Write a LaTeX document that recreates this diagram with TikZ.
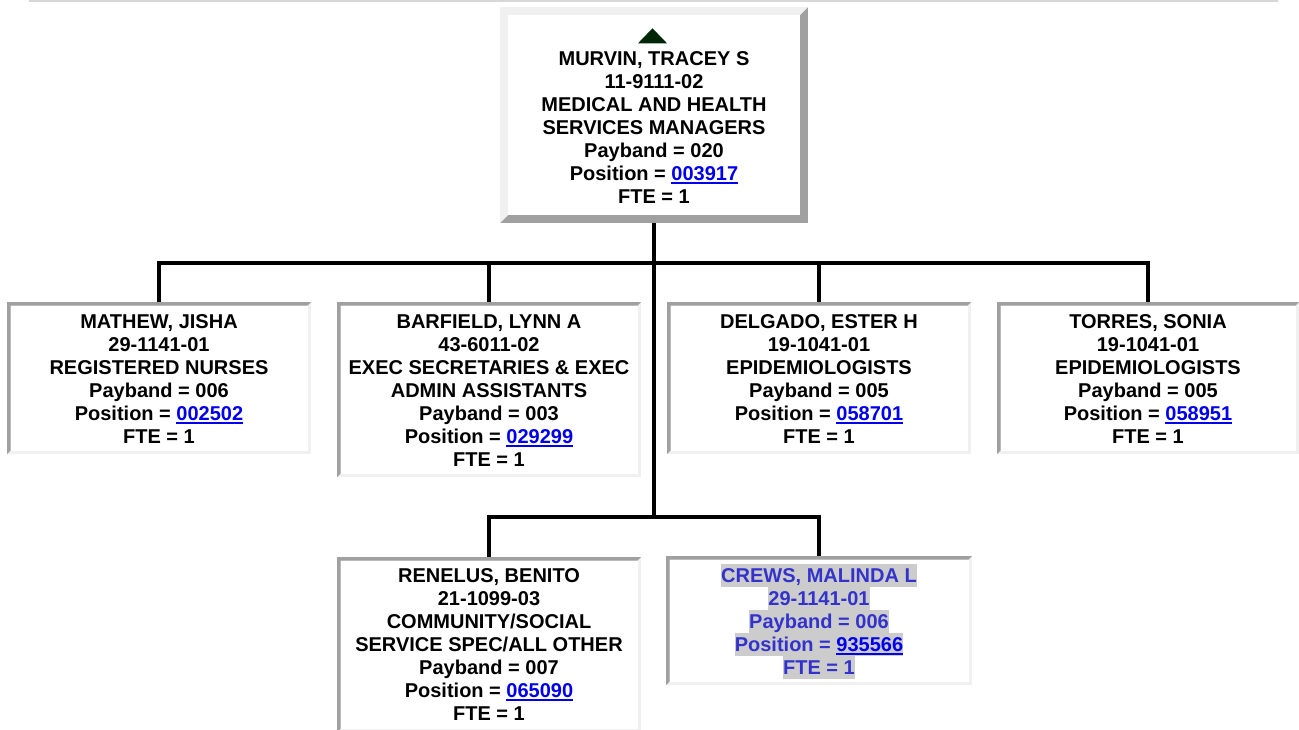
\documentclass[tikz,border=0pt]{standalone}
\usepackage{fontspec}
\setmainfont{Liberation Sans}
\definecolor{lightb}{RGB}{240,240,240}
\definecolor{darkb}{RGB}{160,160,160}
\definecolor{linkblue}{RGB}{0,0,238}
\definecolor{crewblue}{RGB}{51,51,204}
\definecolor{hlgray}{RGB}{204,204,204}
\definecolor{triGreen}{RGB}{0,38,8}
\definecolor{hrgray}{RGB}{215,215,215}
\newsavebox\lkbox
\newcommand\lk[1]{{\color{linkblue}\sbox\lkbox{#1}\rlap{\rule[-3.5pt]{\wd\lkbox}{2pt}}\usebox\lkbox}}
\newcommand\hlline[1]{{\setlength\fboxsep{0pt}\colorbox{hlgray}{\rule[-4.5pt]{0pt}{23pt}#1}}}
\newcommand\bevel[4]{%
  \fill[#4] (#1.south west) rectangle (#1.north east);
  \fill[#3] (#1.south west) -- (#1.north west) -- (#1.north east)
    -- ([xshift=-#2,yshift=-#2]#1.north east) -- ([xshift=#2,yshift=-#2]#1.north west)
    -- ([xshift=#2,yshift=#2]#1.south west) -- cycle;
  \fill[white] ([xshift=#2,yshift=-#2]#1.north west) rectangle ([xshift=-#2,yshift=#2]#1.south east);
}
\tikzset{
  conn/.style={line width=4pt, draw=black},
  boxnode/.style={draw=none, inner sep=0pt, outer sep=0pt, anchor=north west},
  txt/.style={inner sep=0pt, outer sep=0pt, anchor=north, align=center,
    font=\fontsize{20}{23}\selectfont\bfseries}
}
\begin{document}
\begin{tikzpicture}[x=1pt,y=-1pt]
\useasboundingbox (0,0) rectangle (1299,729);
\fill[white] (0,0) rectangle (1299,729);
% top rule
\draw[hrgray, line width=1.5pt] (29,0.75) -- (1278,0.75);
% box nodes
\node[boxnode, minimum width=308pt, minimum height=216pt] (murvin) at (500,7) {};
\node[boxnode, minimum width=304pt, minimum height=152pt] (mathew) at (7,302) {};
\node[boxnode, minimum width=304pt, minimum height=175pt] (barfield) at (337,302) {};
\node[boxnode, minimum width=304pt, minimum height=152pt] (delgado) at (667,302) {};
\node[boxnode, minimum width=302pt, minimum height=152pt] (torres) at (997,302) {};
\node[boxnode, minimum width=304pt, minimum height=175pt] (renelus) at (337,557) {};
\node[boxnode, minimum width=306pt, minimum height=129pt] (crews) at (666,556) {};
% connectors
\coordinate (bus1) at (654,263);
\coordinate (bus2) at (654,517);
\draw[conn] (murvin.south) -- (bus2);
\draw[conn] (mathew.north) -- (mathew.north |- bus1) -- (torres.north |- bus1) -- (torres.north);
\draw[conn] (barfield.north) -- (barfield.north |- bus1);
\draw[conn] (delgado.north) -- (delgado.north |- bus1);
\draw[conn] (renelus.north) -- (renelus.north |- bus2) -- (crews.north |- bus2) -- (crews.north);
% bevels
\bevel{murvin}{8pt}{lightb}{darkb}
\bevel{mathew}{3.5pt}{darkb}{lightb}
\bevel{barfield}{3.5pt}{darkb}{lightb}
\bevel{delgado}{3.5pt}{darkb}{lightb}
\bevel{torres}{3.5pt}{darkb}{lightb}
\bevel{renelus}{3.5pt}{darkb}{lightb}
\bevel{crews}{3.5pt}{darkb}{lightb}
% triangle
\fill[triGreen] (638,43.3) -- (652.5,28.3) -- (667,43.3) -- cycle;
% texts
\node[txt] (murvinT) at (654,47) {\rule{0pt}{18pt}MURVIN, TRACEY S\\11-9111-02\\MEDICAL AND HEALTH\\SERVICES MANAGERS\\Payband = 020\\Position = \lk{003917}\\FTE = 1};
\node[txt] (mathewT) at (159,310) {\rule{0pt}{18pt}MATHEW, JISHA\\29-1141-01\\REGISTERED NURSES\\Payband = 006\\Position = \lk{002502}\\FTE = 1};
\node[txt] (barfieldT) at (489,310) {\rule{0pt}{18pt}BARFIELD, LYNN A\\43-6011-02\\EXEC SECRETARIES \& EXEC\\ADMIN ASSISTANTS\\Payband = 003\\Position = \lk{029299}\\FTE = 1};
\node[txt] (delgadoT) at (819,310) {\rule{0pt}{18pt}DELGADO, ESTER H\\19-1041-01\\EPIDEMIOLOGISTS\\Payband = 005\\Position = \lk{058701}\\FTE = 1};
\node[txt] (torresT) at (1148,310) {\rule{0pt}{18pt}TORRES, SONIA\\19-1041-01\\EPIDEMIOLOGISTS\\Payband = 005\\Position = \lk{058951}\\FTE = 1};
\node[txt] (renelusT) at (489,564) {\rule{0pt}{18pt}RENELUS, BENITO\\21-1099-03\\COMMUNITY/SOCIAL\\SERVICE SPEC/ALL OTHER\\Payband = 007\\Position = \lk{065090}\\FTE = 1};
\node[txt, text=crewblue] (crewsT) at (819,563.5) {\hlline{CREWS, MALINDA L}\\\hlline{29-1141-01}\\\hlline{Payband = 006}\\\hlline{Position = \lk{935566}}\\\hlline{FTE = 1}};
\end{tikzpicture}
\end{document}
